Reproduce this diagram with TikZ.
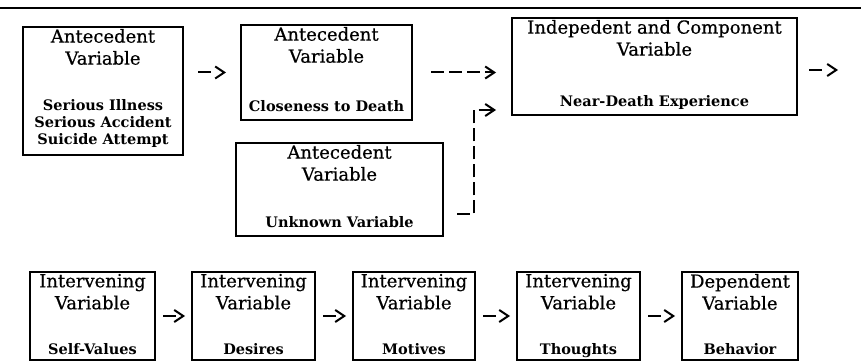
\documentclass[tikz,border=0pt]{standalone}
\usepackage{fontspec}
\setmainfont{DejaVu Serif}
\newfontfamily\titlefont[FakeBold=0.6]{DejaVu Serif}
\usetikzlibrary{arrows.meta}                % arrow tips

% box text: width, height, title, variable, bottom gap
\newcommand{\boxtext}[5]{%
  \parbox[c][#2][t]{#1}{\centering\vspace*{2pt}%
    \titlefont\fontsize{18}{22}\selectfont #3\par\vfill
    \rmfamily\fontsize{14.5}{17}\selectfont\bfseries #4\strut\par\vspace*{#5}}}

\tikzset{
  varbox/.style={draw, line width=2pt, inner sep=0pt},
  arr/.style={line width=2pt, dash pattern=on 13pt off 30pt, -{Straight Barb[length=9pt,width=12pt]}},
  dasharr/.style={arr, dash pattern=on 13pt off 5pt},
}

\begin{document}
\begin{tikzpicture}[x=1pt,y=-1pt]
      \useasboundingbox (0,0) rectangle (861,363);
      \draw[line width=2pt] (0,8) -- (861,8);

      % antecedent and independent variables
      \node[varbox] (sources) at (103,91) {\boxtext{160pt}{128pt}{Antecedent\\Variable}{Serious Illness\\Serious Accident\\Suicide Attempt}{5pt}};
      \node[varbox] (closeness) at (326.5,72.5) {\boxtext{171pt}{95pt}{Antecedent\\Variable}{Closeness to Death}{3pt}};
      \node[varbox] (nde) at (654.5,66.5) {\boxtext{285pt}{97pt}{Indepedent and Component\\Variable}{Near-Death Experience}{3pt}};
      \node[varbox] (unknown) at (339.5,189.5) {\boxtext{207pt}{93pt}{Antecedent\\Variable}{Unknown Variable}{3pt}};

      % intervening and dependent variables
      \node[varbox] (selfvalues) at (92.5,316) {\boxtext{125pt}{88pt}{Intervening\\Variable}{Self-Values}{0pt}};
      \node[varbox] (desires) at (253.5,316) {\boxtext{123pt}{88pt}{Intervening\\Variable}{Desires}{0pt}};
      \node[varbox] (motives) at (414,316) {\boxtext{122pt}{88pt}{Intervening\\Variable}{Motives}{0pt}};
      \node[varbox] (thoughts) at (578.5,316) {\boxtext{123pt}{88pt}{Intervening\\Variable}{Thoughts}{0pt}};
      \node[varbox] (behavior) at (740,316) {\boxtext{116pt}{88pt}{Dependent\\Variable}{Behavior}{0pt}};

      \coordinate (exit) at (838,70);
      \coordinate (bend) at (474,110);

      \draw[arr, shorten <=14pt, shorten >=14pt] (sources.east |- closeness.west) -- (closeness.west);
      \draw[dasharr, shorten <=18pt, shorten >=15pt] (closeness.east) -- (closeness.east -| nde.west);
      \draw[arr, shorten <=11pt] (nde.east |- exit) -- (exit);
      \draw[dasharr, shorten <=13pt, shorten >=15pt] ([yshift=-25pt]unknown.east) -| (bend) -- (nde.west |- bend);

      \foreach \a/\b in {selfvalues/desires, desires/motives, motives/thoughts, thoughts/behavior}
        \draw[arr, shorten <=7pt, shorten >=6pt] (\a) -- (\b);
    \end{tikzpicture}
\end{document}
